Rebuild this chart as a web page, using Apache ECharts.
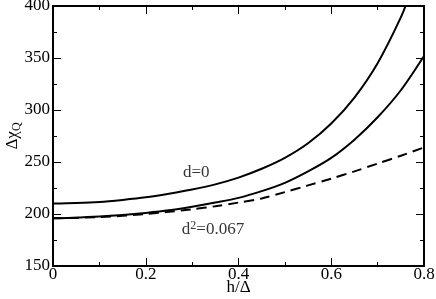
<!DOCTYPE html>
<html><head><meta charset="utf-8">
<script src="https://cdn.jsdelivr.net/npm/echarts@6/dist/echarts.min.js"></script>
<style>html,body{margin:0;padding:0;background:#fff}#c{width:436px;height:299px}</style>
</head><body><div id="c"></div>
<script>
const hUpper = [0,0.05,0.1,0.15,0.2,0.25,0.3,0.35,0.4,0.45,0.5,0.55,0.6,0.65,0.7,0.75,0.77];
const chiUpper = [210,210.5,211.5,213.5,216,219.5,223.5,228.5,235,243.5,254,268,287,312,345,389,412];
const hMid = [0,0.05,0.1,0.15,0.2,0.25,0.3,0.35,0.4,0.45,0.5,0.55,0.6,0.65,0.7,0.75,0.8];
const chiMid = [196,196.5,197.5,199,201,203.5,207,211,215.5,222,230,241,254,271.5,293,319,352];
const hDash = [0,0.1,0.2,0.3,0.35,0.4,0.45,0.5,0.55,0.6,0.65,0.7,0.75,0.8];
const chiDash = [196,197,200,204.5,207.5,211,215,221,227.5,234,241,248.5,256,264];
const xTicks = {min:0, max:0.8, interval:0.2};
const yTicks = {min:150, max:400, interval:50};
const labelD0 = {text:'d=0', h:0.309, chi:240};
const labelD2 = {text:'{t|d}{s|2}{t|=0.067}', h:0.345, chi:185};

const pair = (xs, ys) => xs.map((x,i)=>[x, ys[i]]);
const font = 'Liberation Serif';
const chart = echarts.init(document.getElementById('c'), null, {renderer:'canvas'});
const tickCfg = {show:true, inside:true, length:8, lineStyle:{color:'#000', width:1}};
const minorCfg = {show:true, splitNumber:2, length:4, lineStyle:{color:'#000', width:1}};
const lineCfg = {show:true, onZero:false, lineStyle:{color:'#000', width:2}};
chart.setOption({
  animation:false,
  grid:{left:53, right:12, top:6, bottom:33, containLabel:false, outerBoundsMode:'none'},
  xAxis:[{
    type:'value', min:xTicks.min, max:xTicks.max, interval:xTicks.interval,
    axisLine:lineCfg, axisTick:tickCfg, minorTick:minorCfg, splitLine:{show:false},
    axisLabel:{color:'#000', fontFamily:font, fontSize:17, margin:0},
    name:'h/Δ', nameLocation:'middle', nameGap:13, nameMoveOverlap:false,
    nameTextStyle:{color:'#000', fontFamily:font, fontSize:17}
  },{
    type:'value', position:'top', min:xTicks.min, max:xTicks.max, interval:xTicks.interval,
    axisLine:lineCfg, axisTick:tickCfg, minorTick:minorCfg, splitLine:{show:false},
    axisLabel:{show:false}
  }],
  yAxis:[{
    type:'value', min:yTicks.min, max:yTicks.max, interval:yTicks.interval,
    axisLine:lineCfg, axisTick:tickCfg, minorTick:minorCfg, splitLine:{show:false},
    axisLabel:{color:'#000', fontFamily:font, fontSize:17, margin:3},
    name:'{a|Δχ}{b|Q}', nameLocation:'middle', nameGap:30, nameRotate:90, nameMoveOverlap:false,
    nameTextStyle:{rich:{
      a:{color:'#000', fontFamily:font, fontSize:17},
      b:{color:'#000', fontFamily:font, fontSize:12, padding:[8,0,0,0]}
    }}
  },{
    type:'value', position:'right', min:yTicks.min, max:yTicks.max, interval:yTicks.interval,
    axisLine:lineCfg, axisTick:tickCfg, minorTick:minorCfg, splitLine:{show:false},
    axisLabel:{show:false}
  }],
  series:[
    {type:'line', data:pair(hUpper, chiUpper), smooth:0.3, showSymbol:false, clip:true,
     lineStyle:{color:'#000', width:2}},
    {type:'line', data:pair(hMid, chiMid), smooth:0.3, showSymbol:false, clip:true,
     lineStyle:{color:'#000', width:2}},
    {type:'line', data:pair(hDash, chiDash), smooth:0.3, showSymbol:false, clip:true,
     lineStyle:{color:'#000', width:2, type:[10,6]}},
    {type:'scatter', symbolSize:0, silent:true,
     data:[[labelD0.h, labelD0.chi]],
     label:{show:true, position:'inside', formatter:labelD0.text, color:'#000', fontFamily:font, fontSize:17}},
    {type:'scatter', symbolSize:0, silent:true,
     data:[[labelD2.h, labelD2.chi]],
     label:{show:true, position:'inside', formatter:labelD2.text,
       rich:{t:{color:'#000', fontFamily:font, fontSize:17},
             s:{color:'#000', fontFamily:font, fontSize:12, padding:[0,0,8,0]}}}}
  ]
});
</script></body></html>
